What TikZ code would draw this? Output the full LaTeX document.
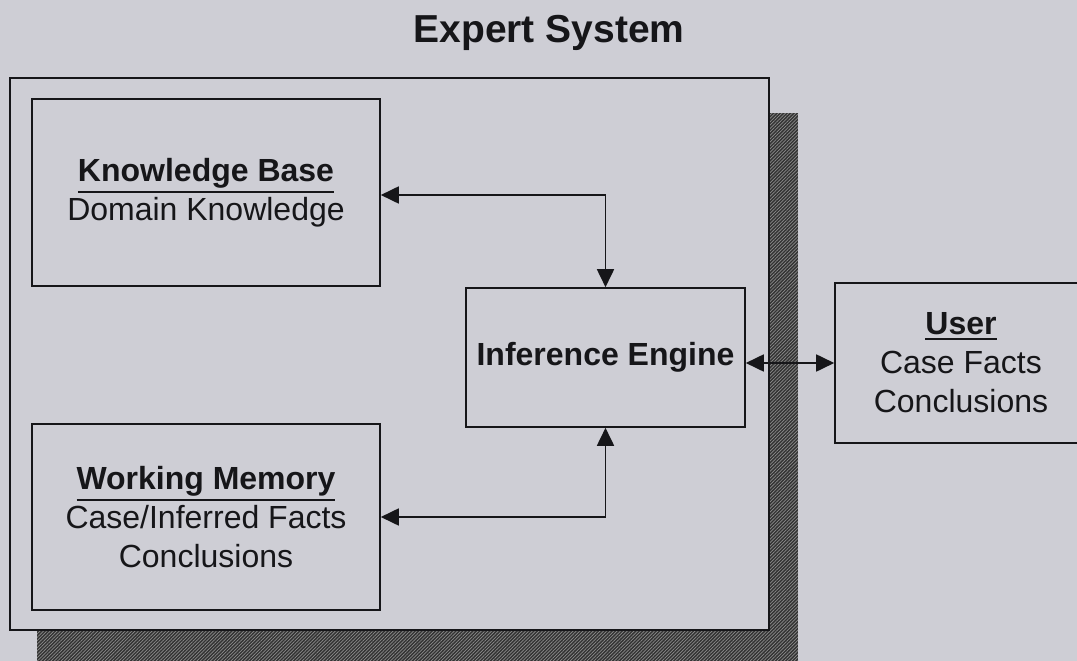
\documentclass[tikz,border=0pt]{standalone}
\usepackage{fontspec}
\setmainfont{Liberation Sans}
\usetikzlibrary{arrows.meta,patterns.meta}
\definecolor{paper}{RGB}{206,206,213}
\definecolor{ink}{RGB}{22,22,25}
\newcommand{\myul}[1]{\leavevmode\vtop{\hbox{#1}\kern2.6pt\hrule height 1.9pt}}
\tikzset{
  box/.style={draw=ink, line width=1.6pt, fill=paper, rectangle, inner sep=0pt, align=center,
    font=\fontsize{32}{39}\selectfont, text=ink},
  arr/.style={draw=ink, line width=1.8pt, {Triangle[length=18pt,width=17pt]}-{Triangle[length=18pt,width=17pt]}},
  shadowfill/.style={fill=black!80},
  shadowhatch/.style={pattern={Lines[angle=45,distance=2.4pt,line width=0.7pt]}, pattern color=black!45}
}
\begin{document}
\begin{tikzpicture}[x=1pt,y=-1pt]
\useasboundingbox (0,0) rectangle (1077,661);
\fill[paper] (0,0) rectangle (1077,661);
% shadow
\fill[shadowfill] (769,113) rectangle (798,661);
\fill[shadowfill] (37,630) rectangle (798,661);
\fill[shadowhatch] (769,113) rectangle (798,661);
\fill[shadowhatch] (37,630) rectangle (769,661);
% title
\node[anchor=base, font=\bfseries\fontsize{39}{47}\selectfont, text=ink, inner sep=0pt] (title) at (549,43) {Expert System};
% outer box
\node[box, minimum width=759pt, minimum height=552pt] (outer) at (389.5,354) {};
% inner boxes
\node[box, minimum width=348pt, minimum height=187pt] (kb) at (206,192.5)
  {\myul{\bfseries Knowledge Base}\\Domain Knowledge};
\node[box, minimum width=348pt, minimum height=186pt] (wm) at (206,517)
  {\myul{\bfseries Working Memory}\\Case/Inferred Facts\\Conclusions};
\node[box, minimum width=279pt, minimum height=139pt] (ie) at (605.5,357.5)
  {\bfseries Inference Engine};
\node[box, minimum width=252pt, minimum height=160pt] (user) at (961,363)
  {\myul{\bfseries User}\\Case Facts\\Conclusions};
% connectors
\draw[arr] ([yshift=-2.5pt]kb.east) -| (ie.north);
\draw[arr] (wm.east) -| (ie.south);
\draw[arr] (ie.east |- user.west) -- (user.west);
\end{tikzpicture}
\end{document}
